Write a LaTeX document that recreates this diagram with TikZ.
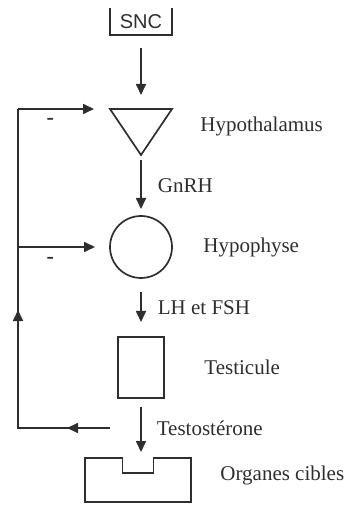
\documentclass[tikz,border=0pt]{standalone}
\usepackage{fontspec}
\setmainfont{Liberation Serif}
\setsansfont{Liberation Sans}
\usetikzlibrary{positioning,calc,arrows.meta,decorations.markings}
\definecolor{inkgray}{HTML}{2E2E2E}
\tikzset{
  >={Triangle[length=5.5pt,width=5pt]},
  every node/.style={font=\fontsize{10.5}{12}\selectfont, text=inkgray},
  ghost/.style={inner sep=0pt, outer sep=0pt},
  organ/.style={draw=inkgray, line width=0.85pt, inner sep=0pt, outer sep=0pt},
  outline/.style={draw=inkgray, line width=0.85pt},
  flow/.style={->, line width=0.85pt, draw=inkgray},
  fbline/.style={line width=0.85pt, draw=inkgray, postaction=decorate,
    decoration={markings,
      mark=at position 21.5pt with {\arrow{>}},
      mark=at position 105pt with {\arrow{>}}}},
  lbl/.style={inner sep=0pt, anchor=west},
  minus/.style={inner sep=0pt, font=\bfseries\fontsize{11}{12}\selectfont},
}

\begin{document}
\begin{tikzpicture}[x=0.5pt, y=-0.5pt]
  \useasboundingbox (0,0) rectangle (350,506);

  % colonne centrale
  \node[ghost, minimum width=31pt, minimum height=13.5pt,
        font=\sffamily\fontsize{10}{12}\selectfont] (snc) at (141,21.5) {SNC};
  \node[ghost, minimum width=31pt, minimum height=23pt, below=37pt of snc] (hyp) {};
  \node[organ, circle, minimum size=31pt, below=30.5pt of hyp] (hypo) {};
  \node[organ, minimum width=23pt, minimum height=30.5pt, below=29.5pt of hypo] (test) {};
  \node[ghost, minimum width=53pt, minimum height=22pt, below=30pt of test, xshift=-1.5pt] (org) {};

  % formes dessinees a la main
  \draw[outline] (snc.north west) -- (snc.south west) -- (snc.south east) -- (snc.north east);
  \draw[outline] (hyp.north west) -- (hyp.north east) -- (hyp.south) -- cycle;
  \draw[outline] (org.north west) -- ($(org.north)+(-7.75pt,0)$) -- ++(0,-7.5pt)
    -- ++(15.5pt,0) -- ++(0,7.5pt) -- (org.north east) -- (org.south east)
    -- (org.south west) -- cycle;

  % noms des organes
  \node[lbl, right=14pt of hyp, yshift=3pt] (thyp) {Hypothalamus};
  \node[lbl, right=15.5pt of hypo] (thypo) {Hypophyse};
  \node[lbl, right=20pt of test] (ttest) {Testicule};
  \node[lbl, right=14.5pt of org, yshift=2.5pt] (torg) {Organes cibles};

  % hormones
  \draw[flow, shorten <=6.5pt, shorten >=7pt] (snc) -- (hyp);
  \draw[flow, shorten <=2.5pt, shorten >=3.5pt] (hyp.south) -- node[lbl, right=8pt] (gnrh) {GnRH} (hypo);
  \draw[flow, shorten <=7pt, shorten >=7.5pt] (hypo) -- node[lbl, right=8pt] (lhfsh) {LH et FSH} (test);
  \draw[flow, shorten <=4.5pt, shorten >=3pt] (test.south) -- node[lbl, right=7.5pt] (testo) {Testost\'erone} (test.south |- org.north);

  % retrocontrole negatif
  \coordinate (tap) at ($(test.south)+(-15.5pt,-15pt)$);
  \coordinate (corner) at ($(hyp.north west)+(-46pt,0)$);
  \coordinate (bl) at (corner |- tap);
  \coordinate (ml) at (corner |- hypo.west);
  \draw[fbline] (tap) -- (bl) -- (corner);
  \draw[flow, shorten >=8pt] (corner) -- node[pos=0.35, below=4.5pt, minus] (m1) {-} (hyp.north west);
  \draw[flow, shorten >=7.5pt] (ml) -- node[pos=0.35, below=5pt, minus] (m2) {-} (hypo.west);
\end{tikzpicture}
\end{document}
